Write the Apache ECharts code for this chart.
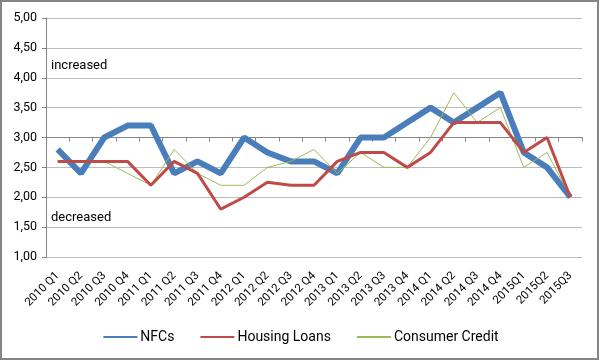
<!DOCTYPE html>
<html><head><meta charset="utf-8">
<script src="https://cdn.jsdelivr.net/npm/echarts@6/dist/echarts.min.js"></script>
<style>html,body{margin:0;padding:0;background:#fff}#c{width:601px;height:361px}</style>
</head><body><div id="c"></div>
<script>
var categories = ['2010 Q1','2010 Q2','2010 Q3','2010 Q4','2011 Q1','2011 Q2','2011 Q3','2011 Q4','2012 Q1','2012 Q2','2012 Q3','2012 Q4','2013 Q1','2013 Q2','2013 Q3','2013 Q4','2014 Q1','2014 Q2','2014 Q3','2014 Q4','2015Q1','2015Q2','2015Q3'];
var nfcs = [2.8,2.4,3.0,3.2,3.2,2.4,2.6,2.4,3.0,2.75,2.6,2.6,2.4,3.0,3.0,3.25,3.5,3.25,3.5,3.75,2.75,2.5,2.0];
var housingLoans = [2.6,2.6,2.6,2.6,2.2,2.6,2.4,1.8,2.0,2.25,2.2,2.2,2.6,2.75,2.75,2.5,2.75,3.25,3.25,3.25,2.75,3.0,2.0];
var consumerCredit = [2.6,2.6,2.6,2.4,2.2,2.8,2.4,2.2,2.2,2.5,2.6,2.8,2.4,2.75,2.5,2.5,3.0,3.75,3.25,3.5,2.5,2.75,2.0];
var yMin = 1, yMax = 5, yStep = 0.5, crossValue = 3;

var chart = echarts.init(document.getElementById('c'), null, {renderer:'canvas'});
var gridTop = 18, gridBottom = 104, gridH = 361 - gridTop - gridBottom;
var crossOffset = -gridH * (crossValue - yMin) / (yMax - yMin);
var font = 'Roboto';
chart.setOption({
  animation:false,
  backgroundColor:'#fff',
  grid:{left:46,right:19,top:gridTop,bottom:gridBottom,containLabel:false},
  graphic:[
    {type:'rect',shape:{x:1,y:1,width:597,height:358},style:{fill:'none',stroke:'#868686',lineWidth:2},z:100},
    {type:'text',left:51,top:59,style:{text:'increased',font:'13px '+font,fill:'#000'}},
    {type:'text',left:51,top:211,style:{text:'decreased',font:'13px '+font,fill:'#000'}}
  ],
  legend:{
    bottom:12,left:'center',itemWidth:34,itemHeight:8,itemGap:25,
    itemStyle:{opacity:0},
    textStyle:{fontFamily:font,fontSize:14,color:'#000',padding:[0,0,0,-2]},
    data:['NFCs','Housing Loans','Consumer Credit']
  },
  xAxis:[
    {type:'category',data:categories,boundaryGap:true,
     axisLine:{show:false},axisTick:{show:false},
     axisLabel:{rotate:45,interval:0,margin:17,fontFamily:font,fontSize:11.5,color:'#000'}},
    {type:'category',data:categories,boundaryGap:true,position:'bottom',offset:crossOffset,
     axisLine:{show:true,lineStyle:{color:'#868686',width:1}},
     axisTick:{show:true,length:4,interval:0,lineStyle:{color:'#868686'}},
     axisLabel:{show:false}}
  ],
  yAxis:{type:'value',min:yMin,max:yMax,interval:yStep,
    axisLine:{show:true,lineStyle:{color:'#868686'}},
    axisTick:{show:true,length:4,lineStyle:{color:'#868686'}},
    axisLabel:{margin:9,fontFamily:font,fontSize:12.5,color:'#000',
      formatter:function(v){return v.toFixed(2).replace('.',',');}},
    splitLine:{lineStyle:{color:'#bcbcbc',width:1}}
  },
  series:[
    {name:'Consumer Credit',type:'line',data:consumerCredit,symbol:'none',z:3,
     lineStyle:{color:'#9BBB59',width:1},itemStyle:{color:'#9BBB59'}},
    {name:'Housing Loans',type:'line',data:housingLoans,symbol:'none',z:4,
     lineStyle:{color:'#BE4B48',width:3},itemStyle:{color:'#BE4B48'}},
    {name:'NFCs',type:'line',data:nfcs,symbol:'none',z:2,
     lineStyle:{color:'#4A7EBB',width:6},itemStyle:{color:'#4A7EBB'}}
  ]
});
</script></body></html>
